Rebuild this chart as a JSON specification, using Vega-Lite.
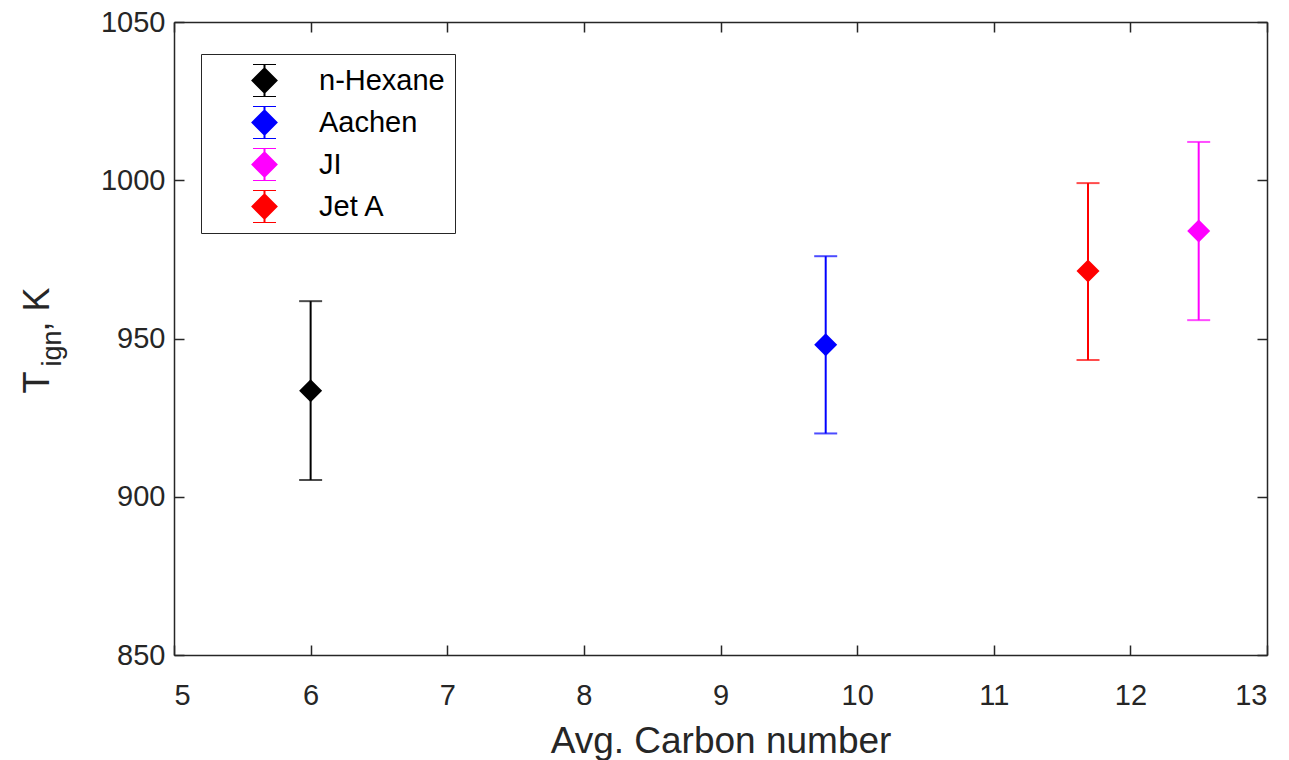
{
  "$schema": "https://vega.github.io/schema/vega-lite/v6.json",
  "width": 1093,
  "height": 633,
  "autosize": {"type": "none"},
  "padding": {"left": 174, "top": 22, "right": 22, "bottom": 105},
  "background": "white",
  "config": {
    "view": {"stroke": null},
    "font": "Liberation Sans",
    "axis": {
      "grid": false,
      "domainColor": "#262626",
      "domainWidth": 1.5,
      "tickColor": "#262626",
      "tickWidth": 1.5,
      "tickSize": -10,
      "labelFont": "Liberation Sans",
      "labelFontSize": 29,
      "labelColor": "#262626",
      "titleFont": "Liberation Sans",
      "titleFontWeight": "normal",
      "titleColor": "#262626"
    }
  },
  "data": {
    "values": [
      {"fuel": "n-Hexane", "carbon": 6, "t": 933.5, "lo": 905.3, "hi": 961.8},
      {"fuel": "Aachen", "carbon": 9.77, "t": 948, "lo": 920, "hi": 976},
      {"fuel": "JI", "carbon": 12.5, "t": 984, "lo": 955.8, "hi": 1012.1},
      {"fuel": "Jet A", "carbon": 11.69, "t": 971.3, "lo": 943.2, "hi": 999.1}
    ]
  },
  "resolve": {"axis": {"x": "independent", "y": "independent"}},
  "layer": [
    {
      "mark": {"type": "rule", "strokeWidth": 2},
      "encoding": {
        "x": {
          "field": "carbon", "type": "quantitative",
          "scale": {"domain": [5, 13], "nice": false, "zero": false},
          "axis": {
            "orient": "bottom",
            "values": [5, 6, 7, 8, 9, 10, 11, 12, 13],
            "format": "d",
            "labelPadding": 36,
            "title": "Avg. Carbon number",
            "titleFontSize": 37,
            "titleBaseline": "alphabetic",
            "titleY": 97
          }
        },
        "y": {
          "field": "lo", "type": "quantitative",
          "scale": {"domain": [850, 1050], "nice": false, "zero": false},
          "axis": {
            "orient": "left",
            "values": [850, 900, 950, 1000, 1050],
            "format": "d",
            "labelPadding": 19,
            "title": "T\u00a0\u00a0\u00a0\u00a0, K",
            "titleFontSize": 36,
            "titleAngle": 270,
            "titleAlign": "center",
            "titleBaseline": "alphabetic",
            "titleX": -126,
            "titleY": 318
          }
        },
        "y2": {"field": "hi"},
        "color": {
          "field": "fuel", "type": "nominal",
          "scale": {
            "domain": ["n-Hexane", "Aachen", "JI", "Jet A"],
            "range": ["#000000", "#0000ff", "#ff00ff", "#ff0000"]
          }
        }
      }
    },
    {
      "mark": {"type": "tick", "orient": "horizontal", "size": 23, "thickness": 2},
      "encoding": {
        "x": {
          "field": "carbon", "type": "quantitative",
          "axis": {
            "orient": "top",
            "values": [5, 6, 7, 8, 9, 10, 11, 12, 13],
            "labels": false,
            "title": null
          }
        },
        "y": {
          "field": "lo", "type": "quantitative",
          "axis": {
            "orient": "right",
            "values": [850, 900, 950, 1000, 1050],
            "labels": false,
            "title": null
          }
        },
        "color": {"field": "fuel", "type": "nominal"}
      }
    },
    {
      "mark": {"type": "tick", "orient": "horizontal", "size": 23, "thickness": 2},
      "encoding": {
        "x": {"field": "carbon", "type": "quantitative", "axis": null},
        "y": {
          "field": "hi", "type": "quantitative",
          "axis": {
            "orient": "left",
            "labels": false,
            "ticks": false,
            "domain": false,
            "title": "ign",
            "titleFontSize": 27,
            "titleAngle": 270,
            "titleAlign": "center",
            "titleBaseline": "alphabetic",
            "titleX": -114,
            "titleY": 326
          }
        },
        "color": {"field": "fuel", "type": "nominal"}
      }
    },
    {
      "mark": {"type": "point", "shape": "diamond", "filled": true, "size": 530, "opacity": 1},
      "encoding": {
        "x": {"field": "carbon", "type": "quantitative", "axis": null},
        "y": {"field": "t", "type": "quantitative", "axis": null},
        "color": {
          "field": "fuel", "type": "nominal",
          "legend": {
            "title": null,
            "orient": "none",
            "legendX": 27,
            "legendY": 32,
            "padding": 10,
            "strokeColor": "#262626",
            "fillColor": "white",
            "cornerRadius": 0,
            "labelFont": "Liberation Sans",
            "labelFontSize": 29,
            "labelColor": "#000000",
            "labelOffset": 40,
            "symbolOffset": 39,
            "symbolSize": 576,
            "symbolStrokeWidth": 2,
            "symbolOpacity": 1,
            "symbolType": "M0,-1.375L0,1.375M-0.96,-1.375L0.96,-1.375M-0.96,1.375L0.96,1.375M0,-1L1,0L0,1L-1,0Z",
            "clipHeight": 33,
            "rowPadding": 9,
            "encode": {
              "symbols": {
                "update": {
                  "fill": {"scale": "color", "field": "value"},
                  "stroke": {"scale": "color", "field": "value"},
                  "strokeWidth": {"value": 2},
                  "opacity": {"value": 1},
                  "fillOpacity": {"value": 1},
                  "strokeOpacity": {"value": 1}
                }
              }
            }
          }
        }
      }
    }
  ]
}
